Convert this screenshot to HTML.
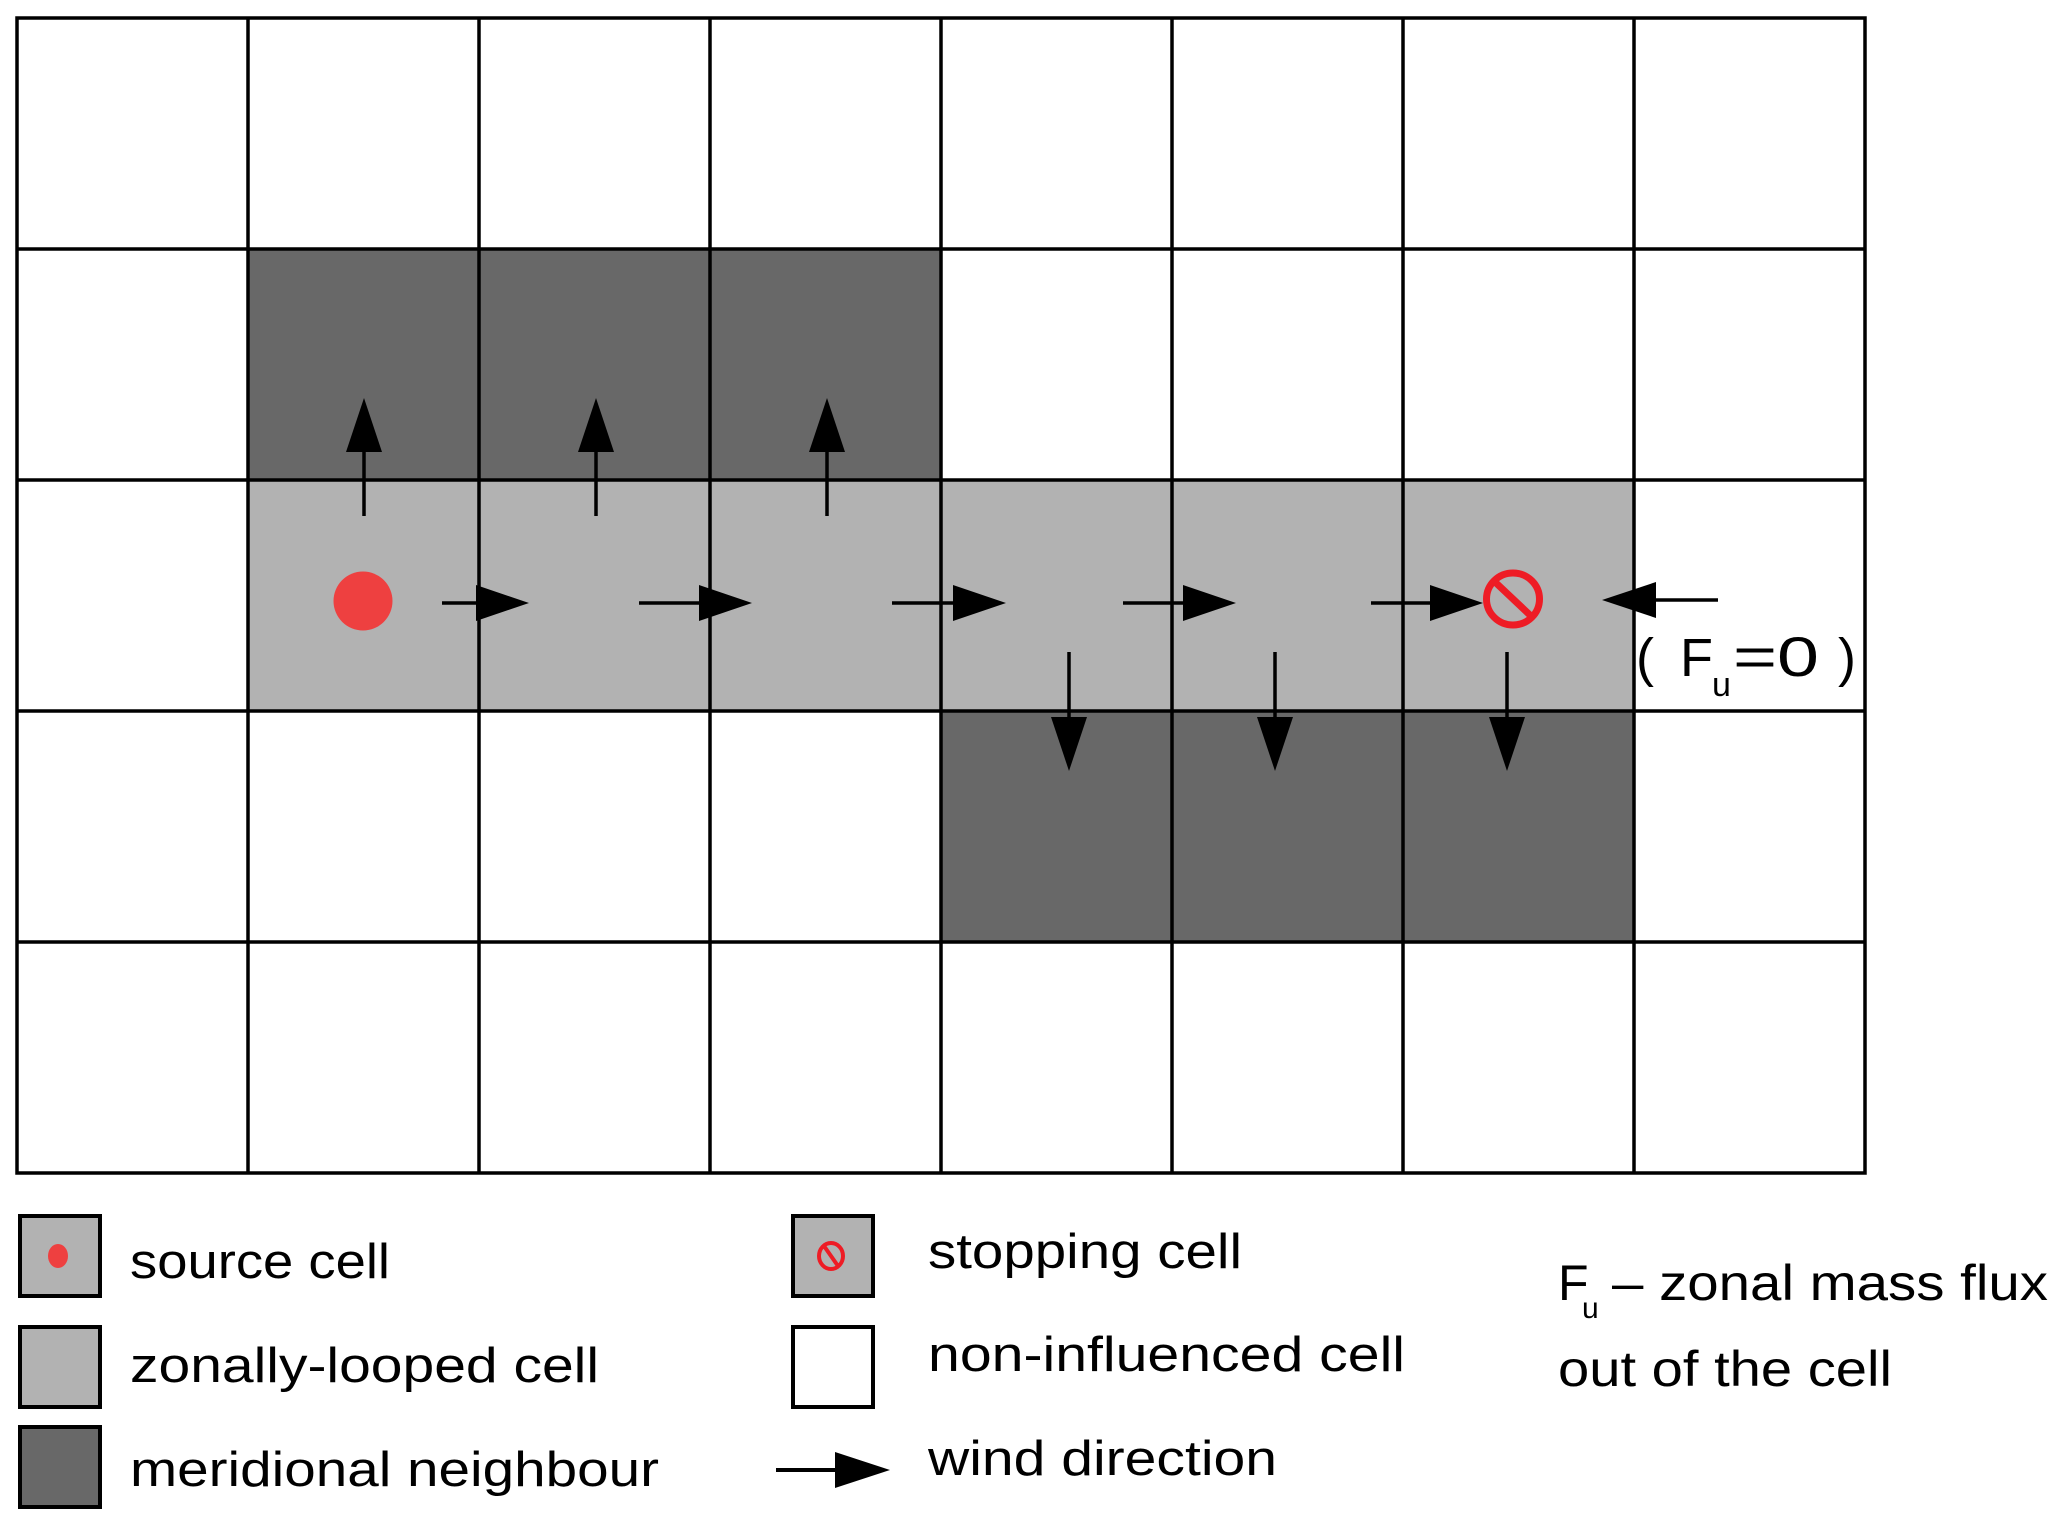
<!DOCTYPE html>
<html><head><meta charset="utf-8"><style>
html,body{margin:0;padding:0;background:#fff;}
svg{display:block;}
text{font-family:"Liberation Sans","DejaVu Sans",sans-serif;fill:#000;}
</style></head><body>
<svg width="2067" height="1526" viewBox="0 0 2067 1526" xmlns="http://www.w3.org/2000/svg">
<g>
<rect x="248" y="249" width="693" height="231" fill="#686868"/>
<rect x="248" y="480" width="1386" height="231" fill="#b2b2b2"/>
<rect x="941" y="711" width="693" height="231" fill="#686868"/>
</g>
<g stroke="#000" stroke-width="3.5" fill="none">
<rect x="17" y="18" width="1848" height="1155"/>
<line x1="248" y1="18" x2="248" y2="1173"/>
<line x1="479" y1="18" x2="479" y2="1173"/>
<line x1="710" y1="18" x2="710" y2="1173"/>
<line x1="941" y1="18" x2="941" y2="1173"/>
<line x1="1172" y1="18" x2="1172" y2="1173"/>
<line x1="1403" y1="18" x2="1403" y2="1173"/>
<line x1="1634" y1="18" x2="1634" y2="1173"/>
<line x1="17" y1="249" x2="1865" y2="249"/>
<line x1="17" y1="480" x2="1865" y2="480"/>
<line x1="17" y1="711" x2="1865" y2="711"/>
<line x1="17" y1="942" x2="1865" y2="942"/>
</g>
<circle cx="363" cy="601" r="29.5" fill="#ee4040"/>
<g stroke="#000" stroke-width="3.5">
<line x1="364" y1="516" x2="364" y2="450"/>
<line x1="596" y1="516" x2="596" y2="450"/>
<line x1="827" y1="516" x2="827" y2="450"/>
</g>
<g fill="#000">
<polygon points="364,398 346,452 382,452"/>
<polygon points="596,398 578,452 614,452"/>
<polygon points="827,398 809,452 845,452"/>
</g>
<g stroke="#000" stroke-width="3.5">
<line x1="442" y1="603" x2="480" y2="603"/>
<line x1="639" y1="603" x2="702" y2="603"/>
<line x1="892" y1="603" x2="955" y2="603"/>
<line x1="1123" y1="603" x2="1186" y2="603"/>
<line x1="1371" y1="603" x2="1434" y2="603"/>
<line x1="1656" y1="600" x2="1718" y2="600"/>
</g>
<g fill="#000">
<polygon points="476,585 529,603 476,621"/>
<polygon points="699,585 752,603 699,621"/>
<polygon points="953,585 1006,603 953,621"/>
<polygon points="1183,585 1236,603 1183,621"/>
<polygon points="1430,585 1483,603 1430,621"/>
<polygon points="1656,582 1602,600 1656,618"/>
</g>
<g stroke="#ee1c25" stroke-width="7" fill="none">
<ellipse cx="1513" cy="599" rx="26.5" ry="26"/>
<line x1="1495" y1="582" x2="1531" y2="616"/>
</g>
<g stroke="#000" stroke-width="3.5">
<line x1="1069" y1="652" x2="1069" y2="720"/>
<line x1="1275" y1="652" x2="1275" y2="720"/>
<line x1="1507" y1="652" x2="1507" y2="720"/>
</g>
<g fill="#000">
<polygon points="1051,717 1087,717 1069,771"/>
<polygon points="1257,717 1293,717 1275,771"/>
<polygon points="1489,717 1525,717 1507,771"/>
</g>
<text x="1636" y="676" font-size="54">(</text>
<text x="1680" y="676" font-size="54">F</text>
<text x="1712" y="696" font-size="34">u</text>
<text x="1733" y="676" font-size="56" textLength="86" lengthAdjust="spacingAndGlyphs">=0</text>
<text x="1838" y="676" font-size="54">)</text>
<g stroke="#000" stroke-width="4">
<rect x="20" y="1216" width="80" height="80" fill="#b2b2b2"/>
<rect x="20" y="1327" width="80" height="80" fill="#b2b2b2"/>
<rect x="20" y="1427" width="80" height="80" fill="#686868"/>
<rect x="793" y="1216" width="80" height="80" fill="#b2b2b2"/>
<rect x="793" y="1327" width="80" height="80" fill="#fff"/>
</g>
<ellipse cx="58" cy="1256" rx="10" ry="12" fill="#ee4040"/>
<g stroke="#ee1c25" stroke-width="4" fill="none">
<ellipse cx="831" cy="1256" rx="12" ry="13"/>
<line x1="824" y1="1246" x2="838" y2="1266"/>
</g>
<line x1="776" y1="1470" x2="840" y2="1470" stroke="#000" stroke-width="4"/>
<polygon points="835,1452 890,1470 835,1488" fill="#000"/>
<text x="130" y="1278" font-size="49" textLength="260" lengthAdjust="spacingAndGlyphs">source cell</text>
<text x="130" y="1382" font-size="49" textLength="469" lengthAdjust="spacingAndGlyphs">zonally-looped cell</text>
<text x="130" y="1486" font-size="49" textLength="529" lengthAdjust="spacingAndGlyphs">meridional neighbour</text>
<text x="928" y="1268" font-size="49" textLength="314" lengthAdjust="spacingAndGlyphs">stopping cell</text>
<text x="928" y="1371" font-size="49" textLength="477" lengthAdjust="spacingAndGlyphs">non-influenced cell</text>
<text x="928" y="1475" font-size="49" textLength="349" lengthAdjust="spacingAndGlyphs">wind direction</text>
<text x="1558" y="1300" font-size="50">F</text>
<text x="1582" y="1318" font-size="30">u</text>
<text x="1612" y="1300" font-size="50" textLength="436" lengthAdjust="spacingAndGlyphs">– zonal mass flux</text>
<text x="1558" y="1386" font-size="50" textLength="334" lengthAdjust="spacingAndGlyphs">out of the cell</text>
</svg>
</body></html>
